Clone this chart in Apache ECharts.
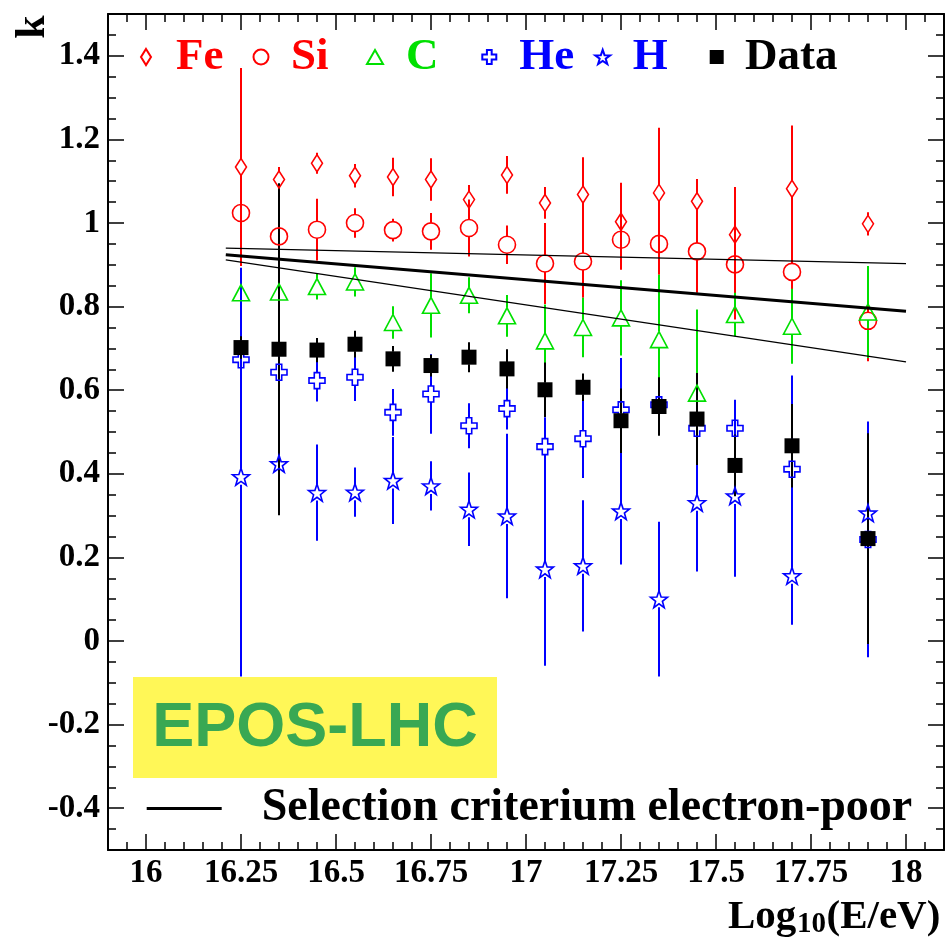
<!DOCTYPE html>
<html>
<head>
<meta charset="utf-8">
<script src="https://cdn.jsdelivr.net/npm/echarts@6/dist/echarts.min.js"></script>
<style>
  html, body { margin: 0; padding: 0; background: #fff; }
  #chart { width: 951px; height: 944px; }
</style>
</head>
<body>
<div id="chart"></div>
<script>
// Energy bins, log10(E/eV)
const energy = [16.25, 16.35, 16.45, 16.55, 16.65, 16.75, 16.85, 16.95, 17.05, 17.15, 17.25, 17.35, 17.45, 17.55, 17.7, 17.9];

// k per primary (simulation) and its uncertainty
const feK   = [1.134, 1.104, 1.143, 1.113, 1.110, 1.104, 1.056, 1.115, 1.048, 1.068, 1.003, 1.072, 1.052, 0.972, 1.082, 0.998];
const feErr = [0.237, 0.030, 0.025, 0.028, 0.046, 0.051, 0.035, 0.045, 0.038, 0.089, 0.093, 0.156, 0.053, 0.114, 0.151, 0.028];
const siK   = [1.024, 0.968, 0.984, 1.000, 0.983, 0.980, 0.988, 0.948, 0.903, 0.908, 0.960, 0.950, 0.932, 0.901, 0.883, 0.766];
const siErr = [0.090, 0.056, 0.074, 0.035, 0.027, 0.044, 0.068, 0.046, 0.097, 0.087, 0.072, 0.074, 0.099, 0.132, 0.083, 0.097];
const cK    = [0.833, 0.835, 0.848, 0.859, 0.762, 0.803, 0.827, 0.778, 0.718, 0.750, 0.773, 0.721, 0.593, 0.781, 0.753, 0.787];
const cErr  = [0.036, 0.040, 0.031, 0.035, 0.039, 0.077, 0.043, 0.050, 0.087, 0.071, 0.090, 0.155, 0.200, 0.052, 0.090, 0.110];
const heK   = [0.673, 0.643, 0.623, 0.631, 0.547, 0.591, 0.515, 0.556, 0.465, 0.484, 0.553, 0.565, 0.509, 0.509, 0.411, 0.243];
const heErr = [0.220, 0.046, 0.050, 0.057, 0.056, 0.095, 0.054, 0.050, 0.070, 0.094, 0.124, 0.060, 0.050, 0.068, 0.224, 0.282];
const hK    = [0.393, 0.424, 0.355, 0.356, 0.384, 0.371, 0.315, 0.299, 0.172, 0.180, 0.311, 0.100, 0.331, 0.347, 0.156, 0.306];
const hErr  = [0.478, 0.062, 0.115, 0.059, 0.104, 0.059, 0.088, 0.197, 0.231, 0.157, 0.128, 0.185, 0.165, 0.193, 0.117, 0.200];

// Measured k
const dataK   = [0.702, 0.698, 0.696, 0.710, 0.675, 0.659, 0.679, 0.651, 0.601, 0.607, 0.527, 0.561, 0.531, 0.420, 0.467, 0.245];
const dataErr = [0.027, 0.397, 0.029, 0.032, 0.031, 0.026, 0.036, 0.047, 0.065, 0.033, 0.077, 0.070, 0.110, 0.074, 0.100, 0.252];

// Electron-poor selection criterion: central line and its band edges
const criterionE     = [16.21, 18.0];
const criterionMid   = [0.924, 0.789];
const criterionUpper = [0.940, 0.903];
const criterionLower = [0.912, 0.668];

// Axis tick labels
const xTickLabels = [16, 16.25, 16.5, 16.75, 17, 17.25, 17.5, 17.75, 18];
const yTickLabels = [-0.4, -0.2, 0, 0.2, 0.4, 0.6, 0.8, 1, 1.2, 1.4];

const RED = '#ff0000', GREEN = '#00e000', BLUE = '#0000ff', BLACK = '#000000';
const SERIF = '"Liberation Serif", "Times New Roman", serif';
const SANS = '"Liberation Sans", Arial, sans-serif';

const STAR = 'path://M50 0 L61.76 33.82 L97.55 34.55 L69.02 56.18 L79.39 90.45 L50 70 L20.61 90.45 L30.98 56.18 L2.45 34.55 L38.24 33.82 Z';
const PLUS = 'path://M33 0 H67 V33 H100 V67 H67 V100 H33 V67 H0 V33 H33 Z';

function minorTicks(from, to, step) {
  const out = [];
  const n = Math.round((to - from) / step);
  for (let i = 0; i <= n; i++) out.push(+(from + i * step).toFixed(4));
  return out;
}

// Vertical error bars, broken around the marker
function errorBars(name, values, errors, color, gap) {
  return {
    type: 'custom',
    name: name + ' error',
    silent: true,
    data: energy.map((e, i) => [e, values[i], errors[i]]),
    encode: { x: 0, y: 1 },
    renderItem: function (params, api) {
      const x = api.value(0), y = api.value(1), err = api.value(2);
      const c = api.coord([x, y]);
      const hi = api.coord([x, y + err]);
      const lo = api.coord([x, y - err]);
      const style = { stroke: color, lineWidth: 2 };
      const children = [];
      if (c[1] - gap > hi[1]) {
        children.push({ type: 'line', shape: { x1: c[0], y1: hi[1], x2: c[0], y2: c[1] - gap }, style: style });
      }
      if (lo[1] > c[1] + gap) {
        children.push({ type: 'line', shape: { x1: c[0], y1: c[1] + gap, x2: c[0], y2: lo[1] }, style: style });
      }
      return { type: 'group', children: children };
    }
  };
}

function markers(name, values, symbol, size, color, filled) {
  return {
    type: 'scatter',
    name: name,
    silent: true,
    data: energy.map((e, i) => [e, values[i]]),
    symbol: symbol,
    symbolSize: size,
    itemStyle: {
      color: filled ? color : 'rgba(255,255,255,0)',
      borderColor: color,
      borderWidth: filled ? 0 : 1.6,
      opacity: 1
    },
    emphasis: { disabled: true }
  };
}

function criterionLine(name, values, width) {
  return {
    type: 'line',
    name: name,
    silent: true,
    data: criterionE.map((e, i) => [e, values[i]]),
    showSymbol: false,
    symbol: 'none',
    lineStyle: { color: BLACK, width: width },
    itemStyle: { color: BLACK },
    emphasis: { disabled: true }
  };
}

const tickLabelStyle = {
  color: BLACK, fontFamily: SERIF, fontWeight: 'bold', fontSize: 33
};

function axis(extra) {
  const base = {
    type: 'value',
    splitLine: { show: false },
    axisLine: { show: true, onZero: false, lineStyle: { color: BLACK, width: 2 } },
    axisLabel: { show: false },
    axisTick: { show: true, inside: true, lineStyle: { color: BLACK, width: 1.5 } }
  };
  return Object.assign(base, extra);
}

const xMinor = minorTicks(15.95, 18.05, 0.05);
const yMinor = minorTicks(-0.45, 1.45, 0.05);
const X_RANGE = { min: 15.9, max: 18.1 };
const Y_RANGE = { min: -0.5, max: 1.5 };

function legendItem(name, left, itemW, itemH, color, padLeft, midY, fontSize) {
  return {
    data: [{ name: name }],
    left: left,
    top: midY - 23,
    padding: 0,
    itemWidth: itemW,
    itemHeight: itemH,
    selectedMode: false,
    textStyle: {
      color: color, fontFamily: SERIF, fontWeight: 'bold', fontSize: fontSize || 45,
      lineHeight: 46, padding: [0, 0, 0, padLeft]
    }
  };
}

const chart = echarts.init(document.getElementById('chart'), null, { renderer: 'canvas' });

chart.setOption({
  animation: false,
  backgroundColor: '#ffffff',
  grid: { left: 108, right: 7, top: 14, bottom: 94, containLabel: false, outerBoundsMode: 'none' },
  xAxis: [
    axis(Object.assign({ position: 'bottom',
      axisTick: { show: true, inside: true, length: 16, customValues: xTickLabels, lineStyle: { color: BLACK, width: 1.5 } },
      axisLabel: Object.assign({ show: true, margin: 7, customValues: xTickLabels,
        formatter: v => String(+(+v).toFixed(2)) }, tickLabelStyle) }, X_RANGE)),
    axis(Object.assign({ position: 'bottom', axisLine: { show: false, onZero: false },
      axisTick: { show: true, inside: true, length: 8, customValues: xMinor, lineStyle: { color: BLACK, width: 1.5 } } }, X_RANGE)),
    axis(Object.assign({ position: 'top',
      axisTick: { show: true, inside: true, length: 16, customValues: xTickLabels, lineStyle: { color: BLACK, width: 1.5 } } }, X_RANGE)),
    axis(Object.assign({ position: 'top', axisLine: { show: false, onZero: false },
      axisTick: { show: true, inside: true, length: 8, customValues: xMinor, lineStyle: { color: BLACK, width: 1.5 } } }, X_RANGE))
  ],
  yAxis: [
    axis(Object.assign({ position: 'left',
      axisTick: { show: true, inside: true, length: 16, customValues: yTickLabels, lineStyle: { color: BLACK, width: 1.5 } },
      axisLabel: Object.assign({ show: true, margin: 8, customValues: yTickLabels,
        formatter: v => String(+(+v).toFixed(2)) }, tickLabelStyle) }, Y_RANGE)),
    axis(Object.assign({ position: 'left', axisLine: { show: false, onZero: false },
      axisTick: { show: true, inside: true, length: 8, customValues: yMinor, lineStyle: { color: BLACK, width: 1.5 } } }, Y_RANGE)),
    axis(Object.assign({ position: 'right',
      axisTick: { show: true, inside: true, length: 16, customValues: yTickLabels, lineStyle: { color: BLACK, width: 1.5 } } }, Y_RANGE)),
    axis(Object.assign({ position: 'right', axisLine: { show: false, onZero: false },
      axisTick: { show: true, inside: true, length: 8, customValues: yMinor, lineStyle: { color: BLACK, width: 1.5 } } }, Y_RANGE))
  ],
  legend: [
    legendItem('Fe', 140, 10, 16, RED, 20, 57),
    legendItem('Si', 252.5, 15, 15, RED, 17.5, 57),
    legendItem('C', 366, 16, 14, GREEN, 18, 57),
    legendItem('He', 481.3, 14, 14, BLUE, 18, 57),
    legendItem('H', 594.2, 15, 15, BLUE, 17.5, 57),
    legendItem('Data', 709.7, 14, 14, BLACK, 16.3, 57),
    Object.assign(legendItem('Selection criterium electron-poor', 146.7, 75, 3, BLACK, 35, 808.5, 46),
      { data: [{ name: 'Selection criterium electron-poor', icon: 'rect' }] })
  ],
  graphic: [
    { type: 'rect', z: 100, shape: { x: 133, y: 677, width: 364, height: 101 }, style: { fill: '#fff757' } },
    { type: 'text', z: 101, style: { text: 'EPOS-LHC', x: 315, y: 729, textAlign: 'center', textVerticalAlign: 'middle',
        fontFamily: SANS, fontWeight: 'bold', fontSize: 63, fill: '#39a853' } },
    { type: 'text', z: 101, x: 33, y: 27, rotation: Math.PI / 2,
      style: { text: 'k', x: 0, y: 0, textAlign: 'center', textVerticalAlign: 'middle',
        fontFamily: SERIF, fontWeight: 'bold', fontSize: 42, fill: BLACK } },
    { type: 'text', z: 101, style: { text: 'Log', x: 728, y: 917, textAlign: 'left', textVerticalAlign: 'middle',
        fontFamily: SERIF, fontWeight: 'bold', fontSize: 41, fill: BLACK } },
    { type: 'text', z: 101, style: { text: '10', x: 797, y: 925, textAlign: 'left', textVerticalAlign: 'middle',
        fontFamily: SERIF, fontWeight: 'bold', fontSize: 29, fill: BLACK } },
    { type: 'text', z: 101, style: { text: '(E/eV)', x: 826.5, y: 917, textAlign: 'left', textVerticalAlign: 'middle',
        fontFamily: SERIF, fontWeight: 'bold', fontSize: 41, fill: BLACK } }
  ],
  series: [
    errorBars('Fe', feK, feErr, RED, 8),
    markers('Fe', feK, 'diamond', [11, 17], RED, false),
    errorBars('Si', siK, siErr, RED, 8.5),
    markers('Si', siK, 'circle', 17, RED, false),
    errorBars('C', cK, cErr, GREEN, 8),
    markers('C', cK, 'triangle', [17, 16], GREEN, false),
    errorBars('He', heK, heErr, BLUE, 8),
    markers('He', heK, PLUS, 16, BLUE, false),
    errorBars('H', hK, hErr, BLUE, 8),
    markers('H', hK, STAR, 17, BLUE, false),
    errorBars('Data', dataK, dataErr, BLACK, 7),
    markers('Data', dataK, 'rect', 15, BLACK, true),
    criterionLine('Selection criterium electron-poor', criterionMid, 3),
    criterionLine('criterion upper edge', criterionUpper, 1.3),
    criterionLine('criterion lower edge', criterionLower, 1.3)
  ]
});
</script>
</body>
</html>
